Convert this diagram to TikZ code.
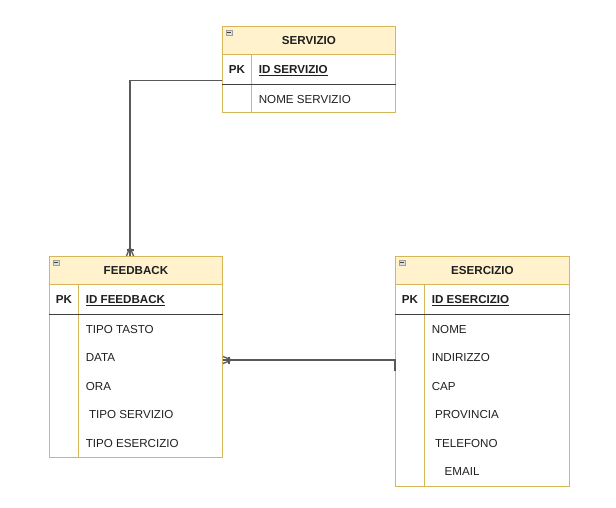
\documentclass[tikz,border=0pt]{standalone}
\usepackage{fontspec}
\setmainfont{Liberation Sans}
\usepackage{tikz}
\usetikzlibrary{calc}
\usetikzlibrary{positioning}
\definecolor{erhead}{HTML}{FFF2CC}
\definecolor{erline}{HTML}{D6B656}
\definecolor{erlink}{HTML}{595959}
\definecolor{erkey}{HTML}{404040}
\definecolor{ertext}{HTML}{1F1F1F}
\newcommand{\erfont}{\fontsize{11.6}{13}\selectfont}
\tikzstyle{every node}=[font=\erfont,text=ertext,inner sep=0pt]
\tikzstyle{every path}=[line width=0.9pt,line join=miter]
\tikzstyle{head}=[draw=erline,fill=erhead,minimum height=28pt,font=\erfont\bfseries]
\tikzstyle{row}=[anchor=base west]
\newcommand{\ertable}[6]{
	\node[head,anchor=north west,minimum width=#3] at #1 (#2) {#4};
	\draw[draw=gray!75,fill=gray!25,line width=0.6pt] ($(#2.north west)+(4,4)$) rectangle ($(#2.north west)+(10,9.5)$);
	\draw[erkey,line width=1pt] ($(#2.north west)+(5.4,6.75)$) -- ($(#2.north west)+(8.6,6.75)$);
	\node[anchor=north west,minimum width=29pt,minimum height=28.5pt,font=\erfont\bfseries] at (#2.south west) (#2_pk) {PK};
	\node[row,font=\erfont\bfseries] at ($(#2_pk.east)+(6.5,4)$) (#2_key) {\underline{#5}};
	\draw[erline] (#2.south west) -- ($(#2_pk.south west)+(0,#6)$) -| (#2.south east);
	\draw[erline] (#2_pk.north east) -- ($(#2_pk.south east)+(0,#6)$);
	\draw[erkey,line width=1.2pt] (#2_pk.south west) -- (#2_pk.south west -| #2.east);
}

\begin{document}
\begin{tikzpicture}[x=1pt,y=-1pt]
		\tikzstyle{link} = [erlink,line width=1.3pt]
		\useasboundingbox (0,0) rectangle (616,507);
		
		\ertable{(222,26)}{servizio}{173pt}{SERVIZIO}{ID SERVIZIO}{28.5}
		\ertable{(49,256)}{feedback}{173pt}{FEEDBACK}{ID FEEDBACK}{143}
		\ertable{(395,256)}{esercizio}{174pt}{ESERCIZIO}{ID ESERCIZIO}{172.5}
		
		\node[row] at ($(servizio_pk.east)+(6.5,33.5)$) (servizio_1) {NOME SERVIZIO};
		\foreach \txt [count=\i] in {TIPO TASTO,DATA,ORA,\ TIPO SERVIZIO,TIPO ESERCIZIO}
			\node[row] at ($(feedback_pk.east)+(6.5,5+28.5*\i)$) (feedback_\i) {\txt};
		\foreach \txt [count=\i] in {NOME,INDIRIZZO,CAP,\ PROVINCIA,\ TELEFONO,\ \ \ \ EMAIL}
			\node[row] at ($(esercizio_pk.east)+(6.5,5+28.5*\i)$) (esercizio_\i) {\txt};
		
		\coordinate (fb_top) at ($(feedback.north west)+(81,0)$);
		\coordinate (fb_side) at ($(feedback.north east)+(0,104)$);
		
		\draw[link] ($(servizio_pk.south west)+(0,-4)$) -| (fb_top);
		\draw[link] ($(fb_top)+(-3.5,0)$) -- ($(fb_top)+(0,-9)$) -- ($(fb_top)+(3.5,0)$);
		\draw[link] ($(fb_top)+(-3.5,-6)$) -- ($(fb_top)+(3.5,-6)$);
		
		\draw[link] (fb_side) -| ($(esercizio.west |- fb_side)+(0,11)$);
		\draw[link] ($(fb_side)+(0,-3.5)$) -- ($(fb_side)+(9,0)$) -- ($(fb_side)+(0,3.5)$);
		\draw[link] ($(fb_side)+(6,-3.5)$) -- ($(fb_side)+(6,3.5)$);
		
	\end{tikzpicture}
\end{document}
